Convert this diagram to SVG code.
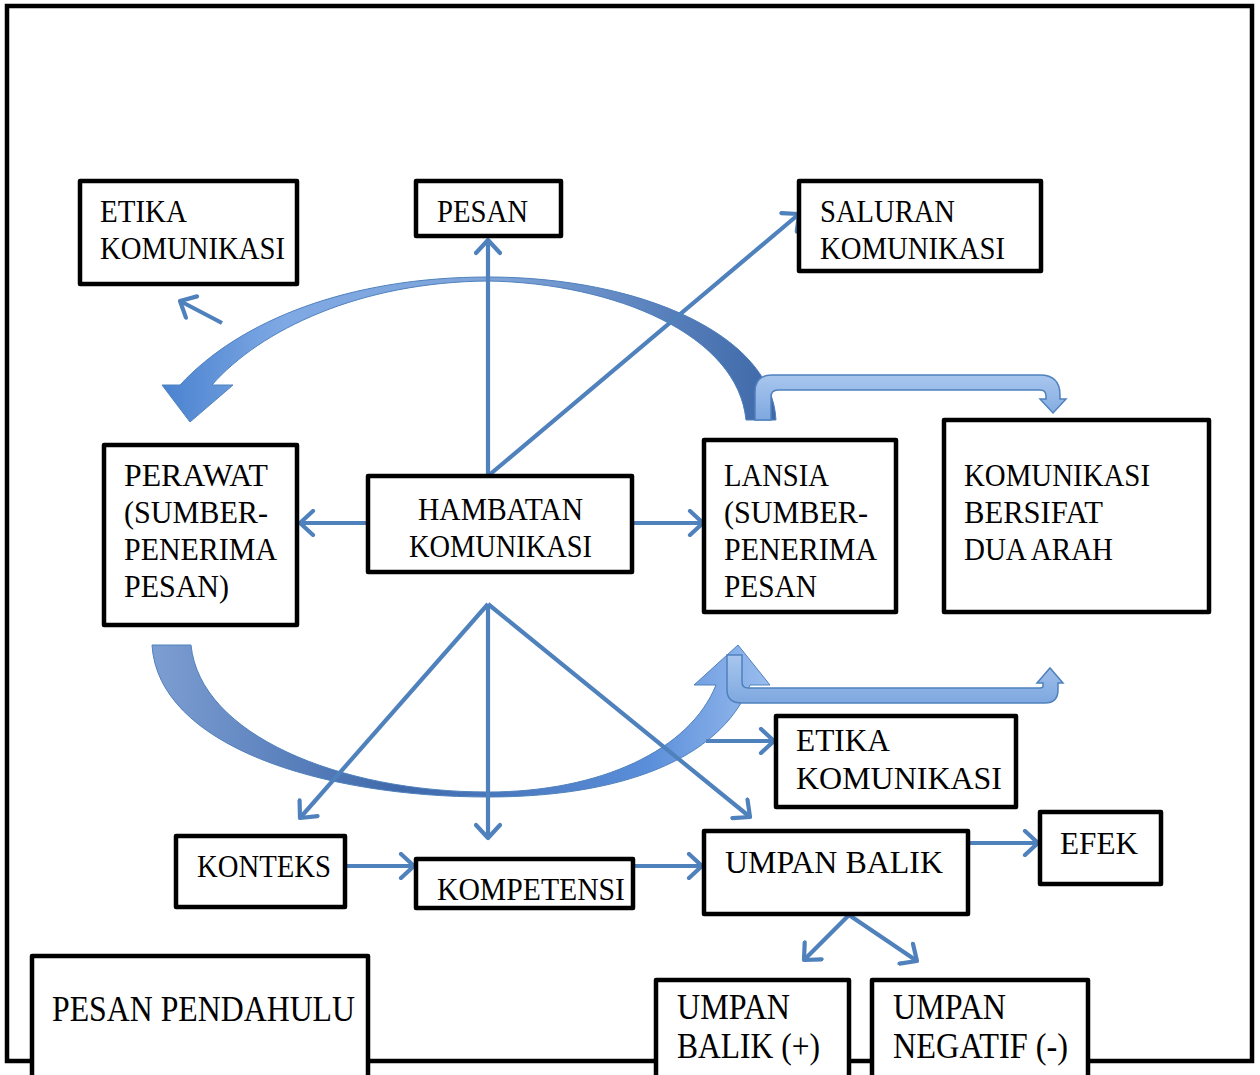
<svg xmlns="http://www.w3.org/2000/svg" width="1260" height="1075" viewBox="0 0 1260 1075">
<defs>
<style>
.box{fill:#fff;stroke:#000;stroke-width:4.5;stroke-linejoin:round}
.c{font-family:"Liberation Serif","Times New Roman",serif;font-size:32px;fill:#000}
.t{font-family:"Liberation Serif","Times New Roman",serif;font-size:32px;fill:#000}
.b{font-family:"Liberation Serif","Times New Roman",serif;font-size:35px;fill:#000}
.ln{fill:none;stroke:#4F81BD;stroke-width:4.2;marker-end:url(#ah)}
.tube{stroke:#4F81BD;stroke-width:1.5;fill:url(#gTube)}
</style>
<marker id="ah" markerUnits="userSpaceOnUse" viewBox="-16 -14 20 28" markerWidth="20" markerHeight="28" refX="0" refY="0" orient="auto">
<path d="M -13,-12 L 0,0 L -13,12" fill="none" stroke="#4F81BD" stroke-width="4.2" stroke-linecap="round" stroke-linejoin="round"/>
</marker>
<linearGradient id="gTop" x1="0" y1="0" x2="1" y2="0">
<stop offset="0" stop-color="#4A82D0"/>
<stop offset="0.2" stop-color="#7FA9E4"/>
<stop offset="0.55" stop-color="#7EA3D8"/>
<stop offset="1" stop-color="#3E68A8"/>
</linearGradient>
<linearGradient id="gBot" x1="0" y1="0" x2="1" y2="0">
<stop offset="0" stop-color="#7D9ED2"/>
<stop offset="0.4" stop-color="#3F69AB"/>
<stop offset="0.8" stop-color="#5A8EDA"/>
<stop offset="1" stop-color="#9ABDEE"/>
</linearGradient>
<linearGradient id="gTube" x1="0" y1="0" x2="0" y2="1">
<stop offset="0" stop-color="#A9C6EE"/>
<stop offset="1" stop-color="#7EA8E0"/>
</linearGradient>
</defs>
<rect x="0" y="0" width="1260" height="1075" fill="#fff"/>
<rect id="frame" x="7" y="6" width="1245" height="1055" fill="none" stroke="#000" stroke-width="4.5"/>

<g id="curves">
<path d="M 776,420 C 772,335 640,277 488,277 C 350,277 240,320 180,385 L 162,385 L 190,422 L 233,385 L 212,385 C 260,330 360,282 488,281 C 615,283 738,335 746,420 Z" fill="url(#gTop)" stroke="#4F81BD" stroke-width="1"/>
<path d="M 755,420 L 755,392 Q 755,375 772,375 L 1040,375 Q 1060,375 1060,395 L 1060,399 L 1066,399 L 1053,413 L 1040,399 L 1046,399 L 1046,396 Q 1046,390 1040,390 L 778,390 Q 771,390 771,397 L 771,420 Z" class="tube"/>
<path d="M 152,645 L 191,645 C 200,735 340,792 488,792 C 600,792 690,750 716,685 L 694,685 L 738,645 L 770,685 L 750,685 C 720,760 620,797 488,797 C 320,797 158,745 152,645 Z" fill="url(#gBot)" stroke="#4F81BD" stroke-width="1"/>
<path d="M 727,655 L 727,690 Q 727,703 742,703 L 1045,703 Q 1058,703 1058,690 L 1058,683 L 1063,683 L 1050,668 L 1037,683 L 1043,683 L 1043,686 Q 1043,688 1040,688 L 748,688 Q 742,688 742,682 L 742,655 Z" class="tube"/>
</g>

<g id="connectors">
<line class="ln" x1="488" y1="476" x2="488" y2="240"/>
<line class="ln" x1="488" y1="476" x2="799" y2="214"/>
<line class="ln" x1="368" y1="523" x2="300" y2="523"/>
<line class="ln" x1="632" y1="523" x2="703" y2="523"/>
<line class="ln" x1="488" y1="604" x2="300" y2="818"/>
<line class="ln" x1="488" y1="604" x2="488" y2="838"/>
<line class="ln" x1="488" y1="604" x2="750" y2="817"/>
<line class="ln" x1="222" y1="323" x2="180" y2="301"/>
<line class="ln" x1="706" y1="741" x2="774" y2="741"/>
<line class="ln" x1="345" y1="866" x2="414" y2="866"/>
<line class="ln" x1="633" y1="866" x2="702" y2="866"/>
<line class="ln" x1="968" y1="843" x2="1038" y2="843"/>
<line class="ln" x1="849" y1="915" x2="804" y2="960"/>
<line class="ln" x1="849" y1="915" x2="917" y2="961"/>
</g>

<g id="n-etika1"><rect class="box" x="80" y="181" width="217" height="103"/>
<text class="c" x="100" y="222" textLength="87" lengthAdjust="spacingAndGlyphs">ETIKA</text>
<text class="c" x="100" y="259" textLength="185" lengthAdjust="spacingAndGlyphs">KOMUNIKASI</text></g>

<g id="n-pesan"><rect class="box" x="416" y="181" width="145" height="55"/>
<text class="c" x="437" y="222" textLength="91" lengthAdjust="spacingAndGlyphs">PESAN</text></g>

<g id="n-saluran"><rect class="box" x="799" y="181" width="242" height="90"/>
<text class="c" x="820" y="222" textLength="135" lengthAdjust="spacingAndGlyphs">SALURAN</text>
<text class="c" x="820" y="259" textLength="185" lengthAdjust="spacingAndGlyphs">KOMUNIKASI</text></g>

<g id="n-perawat"><rect class="box" x="104" y="445" width="193" height="180"/>
<text class="c" x="124" y="486" textLength="144" lengthAdjust="spacingAndGlyphs">PERAWAT</text>
<text class="c" x="124" y="523" textLength="144" lengthAdjust="spacingAndGlyphs">(SUMBER-</text>
<text class="c" x="124" y="560" textLength="153" lengthAdjust="spacingAndGlyphs">PENERIMA</text>
<text class="c" x="124" y="597" textLength="105" lengthAdjust="spacingAndGlyphs">PESAN)</text></g>

<g id="n-hambatan"><rect class="box" x="368" y="476" width="264" height="96"/>
<text class="c" x="418" y="520" textLength="165" lengthAdjust="spacingAndGlyphs">HAMBATAN</text>
<text class="c" x="409" y="557" textLength="183" lengthAdjust="spacingAndGlyphs">KOMUNIKASI</text></g>

<g id="n-lansia"><rect class="box" x="704" y="440" width="192" height="172"/>
<text class="c" x="724" y="486" textLength="105" lengthAdjust="spacingAndGlyphs">LANSIA</text>
<text class="c" x="724" y="523" textLength="144" lengthAdjust="spacingAndGlyphs">(SUMBER-</text>
<text class="c" x="724" y="560" textLength="153" lengthAdjust="spacingAndGlyphs">PENERIMA</text>
<text class="c" x="724" y="597" textLength="93" lengthAdjust="spacingAndGlyphs">PESAN</text></g>

<g id="n-duaarah"><rect class="box" x="944" y="420" width="265" height="192"/>
<text class="c" x="964" y="486" textLength="186" lengthAdjust="spacingAndGlyphs">KOMUNIKASI</text>
<text class="c" x="964" y="523" textLength="139" lengthAdjust="spacingAndGlyphs">BERSIFAT</text>
<text class="c" x="964" y="560" textLength="149" lengthAdjust="spacingAndGlyphs">DUA ARAH</text></g>

<g id="n-etika2"><rect class="box" x="776" y="716" width="240" height="91"/>
<text class="t" x="796" y="751" textLength="94" lengthAdjust="spacingAndGlyphs">ETIKA</text>
<text class="t" x="796" y="789" textLength="206" lengthAdjust="spacingAndGlyphs">KOMUNIKASI</text></g>

<g id="n-konteks"><rect class="box" x="176" y="836" width="169" height="71"/>
<text class="t" x="197" y="877" textLength="134" lengthAdjust="spacingAndGlyphs">KONTEKS</text></g>

<g id="n-kompetensi"><rect class="box" x="416" y="859" width="217" height="49"/>
<text class="t" x="437" y="900" textLength="188" lengthAdjust="spacingAndGlyphs">KOMPETENSI</text></g>

<g id="n-umpanbalik"><rect class="box" x="704" y="831" width="264" height="83"/>
<text class="t" x="725" y="873" textLength="218" lengthAdjust="spacingAndGlyphs">UMPAN BALIK</text></g>

<g id="n-efek"><rect class="box" x="1040" y="812" width="121" height="72"/>
<text class="t" x="1060" y="854" textLength="78" lengthAdjust="spacingAndGlyphs">EFEK</text></g>

<g id="n-pendahulu"><rect class="box" x="32" y="956" width="336" height="130"/>
<text class="b" x="52" y="1021" textLength="303" lengthAdjust="spacingAndGlyphs">PESAN PENDAHULU</text></g>

<g id="n-ubplus"><rect class="box" x="656" y="980" width="193" height="106"/>
<text class="b" x="677" y="1019" textLength="113" lengthAdjust="spacingAndGlyphs">UMPAN</text>
<text class="b" x="677" y="1058" textLength="143" lengthAdjust="spacingAndGlyphs">BALIK (+)</text></g>

<g id="n-ubminus"><rect class="box" x="872" y="980" width="216" height="106"/>
<text class="b" x="893" y="1019" textLength="113" lengthAdjust="spacingAndGlyphs">UMPAN</text>
<text class="b" x="893" y="1058" textLength="175" lengthAdjust="spacingAndGlyphs">NEGATIF (-)</text></g>
</svg>
